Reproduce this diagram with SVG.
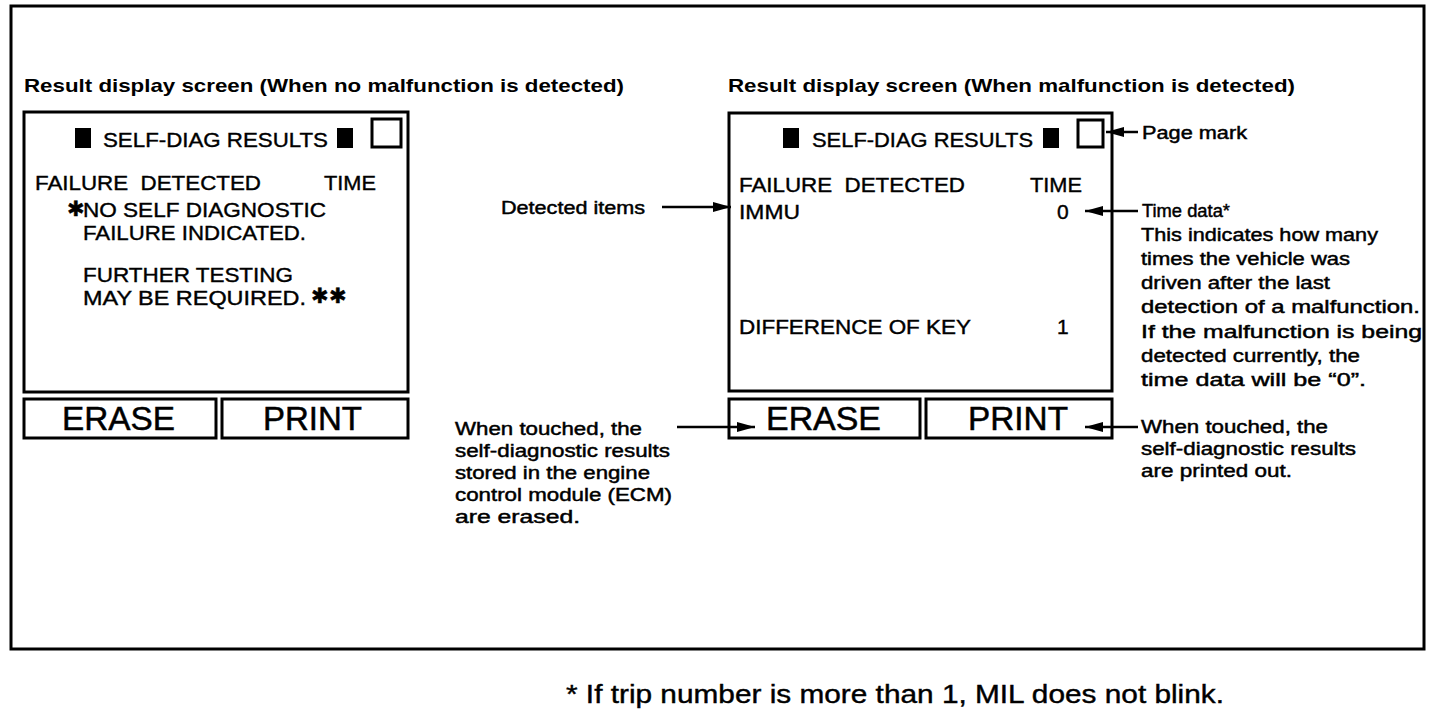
<svg xmlns="http://www.w3.org/2000/svg" width="1456" height="714" viewBox="0 0 1456 714">
<defs>
<marker id="ah" viewBox="0 0 10 10" refX="10" refY="5" markerWidth="18" markerHeight="10" markerUnits="userSpaceOnUse" orient="auto-start-reverse" preserveAspectRatio="none">
<path d="M0,0 L10,5 L0,10 z" fill="#000"/>
</marker>
<style>
.frame{fill:none;stroke:#000;stroke-width:3}
.box{fill:#fff;stroke:#000;stroke-width:3}
.t{font-family:"Liberation Sans",Arial,sans-serif;fill:#000}
.title{font-size:19px;font-weight:bold}
.scr{font-size:21px;stroke:#000;stroke-width:0.4}
.btn{font-size:33px;stroke:#000;stroke-width:0.5}
.ann{font-size:17.5px;stroke:#000;stroke-width:0.45}
.foot{font-size:25px;stroke:#000;stroke-width:0.4}
.conn{stroke:#000;stroke-width:2.5;fill:none}
</style>
</defs>
<rect width="1456" height="714" fill="#fff"/>
<rect class="frame" x="11" y="6" width="1413" height="643"/>

<g id="title-left">
<text class="t title" x="24" y="92" textLength="600" lengthAdjust="spacingAndGlyphs">Result display screen (When no malfunction is detected)</text>
</g>
<g id="title-right">
<text class="t title" x="728" y="92" textLength="567" lengthAdjust="spacingAndGlyphs">Result display screen (When malfunction is detected)</text>
</g>

<g id="screen-left">
<rect class="box" x="24" y="112" width="384" height="280"/>
<rect x="75" y="128" width="16" height="20" fill="#000"/>
<text class="t scr" x="103" y="147" textLength="225" lengthAdjust="spacingAndGlyphs">SELF-DIAG RESULTS</text>
<rect x="337" y="128" width="16" height="20" fill="#000"/>
<rect x="372" y="119" width="29" height="28" fill="none" stroke="#000" stroke-width="3"/>
<text class="t scr" x="35" y="190" textLength="226" lengthAdjust="spacingAndGlyphs" xml:space="preserve">FAILURE  DETECTED</text>
<text class="t scr" x="324" y="190" textLength="52" lengthAdjust="spacingAndGlyphs">TIME</text>
<text class="t scr" x="67" y="216" font-size="16">✱</text>
<text class="t scr" x="83" y="217" textLength="243" lengthAdjust="spacingAndGlyphs">NO SELF DIAGNOSTIC</text>
<text class="t scr" x="83" y="240" textLength="223" lengthAdjust="spacingAndGlyphs">FAILURE INDICATED.</text>
<text class="t scr" x="83" y="282" textLength="210" lengthAdjust="spacingAndGlyphs">FURTHER TESTING</text>
<text class="t scr" x="83" y="305" textLength="223" lengthAdjust="spacingAndGlyphs">MAY BE REQUIRED.</text>
<text class="t scr" x="311" y="303" font-size="16">✱✱</text>
</g>
<g id="erase-left">
<rect class="box" x="24" y="399" width="192" height="39"/>
<text class="t btn" x="62" y="430" textLength="113" lengthAdjust="spacingAndGlyphs">ERASE</text>
</g>
<g id="print-left">
<rect class="box" x="222" y="399" width="186" height="39"/>
<text class="t btn" x="263" y="430" textLength="99" lengthAdjust="spacingAndGlyphs">PRINT</text>
</g>

<g id="screen-right">
<rect class="box" x="729" y="113" width="383" height="278"/>
<rect x="783" y="128" width="16" height="20" fill="#000"/>
<text class="t scr" x="812" y="147" textLength="221" lengthAdjust="spacingAndGlyphs">SELF-DIAG RESULTS</text>
<rect x="1043" y="128" width="16" height="20" fill="#000"/>
<rect x="1078" y="120" width="25" height="27" fill="none" stroke="#000" stroke-width="3"/>
<text class="t scr" x="739" y="192" textLength="226" lengthAdjust="spacingAndGlyphs" xml:space="preserve">FAILURE  DETECTED</text>
<text class="t scr" x="1030" y="192" textLength="52" lengthAdjust="spacingAndGlyphs">TIME</text>
<text class="t scr" x="739" y="219" textLength="61" lengthAdjust="spacingAndGlyphs">IMMU</text>
<text class="t scr" x="1057" y="219">0</text>
<text class="t scr" x="1057" y="334">1</text>
<text class="t scr" x="739" y="334" textLength="232" lengthAdjust="spacingAndGlyphs">DIFFERENCE OF KEY</text>
</g>
<g id="erase-right">
<rect class="box" x="729" y="399" width="191" height="39"/>
<text class="t btn" x="766" y="430" textLength="115" lengthAdjust="spacingAndGlyphs">ERASE</text>
</g>
<g id="print-right">
<rect class="box" x="926" y="399" width="186" height="39"/>
<text class="t btn" x="968" y="430" textLength="100" lengthAdjust="spacingAndGlyphs">PRINT</text>
</g>

<g id="label-detected">
<text class="t ann" x="501" y="214" textLength="144" lengthAdjust="spacingAndGlyphs">Detected items</text>
</g>
<g id="label-erase">
<text class="t ann" x="455" y="435" textLength="187" lengthAdjust="spacingAndGlyphs">When touched, the</text>
<text class="t ann" x="455" y="457" textLength="215" lengthAdjust="spacingAndGlyphs">self-diagnostic results</text>
<text class="t ann" x="455" y="479" textLength="195" lengthAdjust="spacingAndGlyphs">stored in the engine</text>
<text class="t ann" x="455" y="501" textLength="217" lengthAdjust="spacingAndGlyphs">control module (ECM)</text>
<text class="t ann" x="455" y="523" textLength="125" lengthAdjust="spacingAndGlyphs">are erased.</text>
</g>
<g id="label-page">
<text class="t ann" x="1142" y="139" textLength="105" lengthAdjust="spacingAndGlyphs">Page mark</text>
</g>
<g id="label-time">
<text class="t ann" x="1142" y="217" textLength="88" lengthAdjust="spacingAndGlyphs">Time data*</text>
<text class="t ann" x="1141" y="241" textLength="237" lengthAdjust="spacingAndGlyphs">This indicates how many</text>
<text class="t ann" x="1141" y="265" textLength="209" lengthAdjust="spacingAndGlyphs">times the vehicle was</text>
<text class="t ann" x="1141" y="289" textLength="189" lengthAdjust="spacingAndGlyphs">driven after the last</text>
<text class="t ann" x="1141" y="313" textLength="279" lengthAdjust="spacingAndGlyphs">detection of a malfunction.</text>
<text class="t ann" x="1141" y="338" textLength="281" lengthAdjust="spacingAndGlyphs">If the malfunction is being</text>
<text class="t ann" x="1141" y="362" textLength="219" lengthAdjust="spacingAndGlyphs">detected currently, the</text>
<text class="t ann" x="1141" y="386" textLength="225" lengthAdjust="spacingAndGlyphs">time data will be “0”.</text>
</g>
<g id="label-print">
<text class="t ann" x="1141" y="433" textLength="187" lengthAdjust="spacingAndGlyphs">When touched, the</text>
<text class="t ann" x="1141" y="455" textLength="215" lengthAdjust="spacingAndGlyphs">self-diagnostic results</text>
<text class="t ann" x="1141" y="477" textLength="151" lengthAdjust="spacingAndGlyphs">are printed out.</text>
</g>

<g id="connectors">
<line class="conn" x1="662" y1="207" x2="731" y2="207" marker-end="url(#ah)"/>
<line class="conn" x1="677" y1="427" x2="755" y2="427" marker-end="url(#ah)"/>
<line class="conn" x1="1138" y1="132" x2="1106" y2="132" marker-end="url(#ah)"/>
<line class="conn" x1="1138" y1="211" x2="1085" y2="211" marker-end="url(#ah)"/>
<line class="conn" x1="1138" y1="427" x2="1085" y2="427" marker-end="url(#ah)"/>
</g>

<g id="footnote">
<text class="t foot" x="566" y="703" textLength="658" lengthAdjust="spacingAndGlyphs">* If trip number is more than 1, MIL does not blink.</text>
</g>
</svg>
